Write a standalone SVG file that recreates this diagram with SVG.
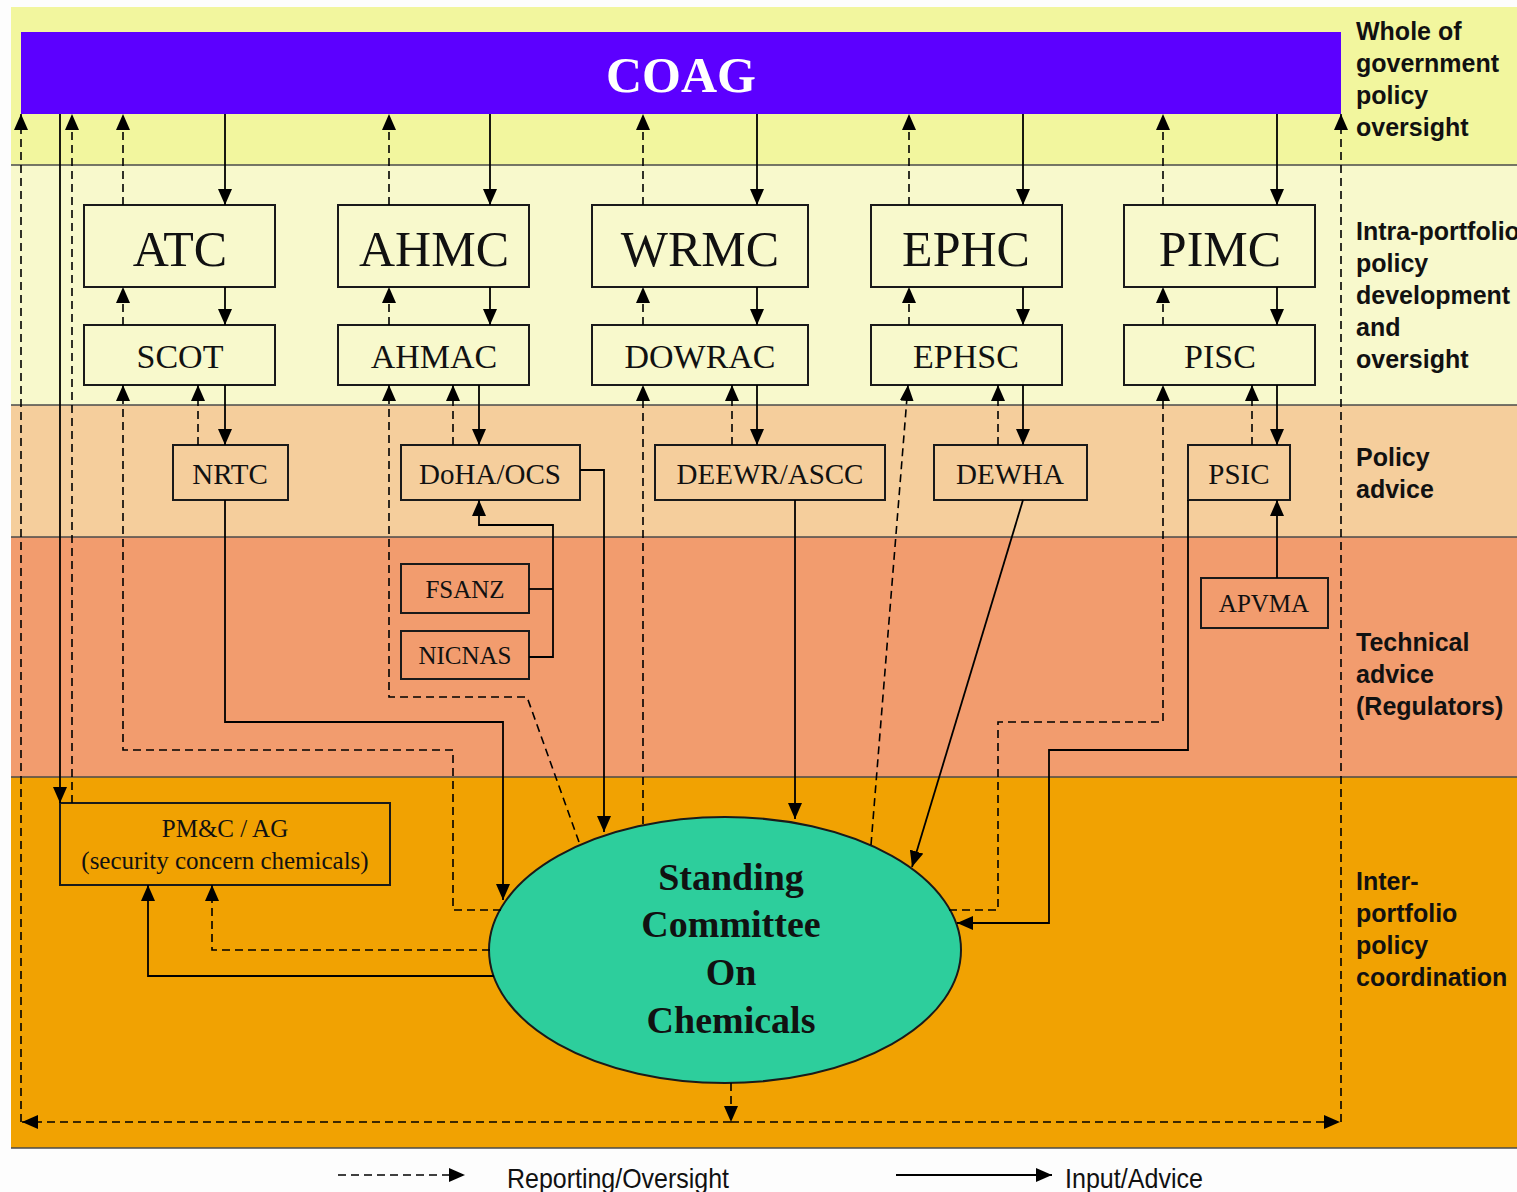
<svg xmlns="http://www.w3.org/2000/svg" width="1517" height="1192" viewBox="0 0 1517 1192">
<defs>
<marker id="arr" viewBox="0 0 16 14" refX="16" refY="7" markerWidth="16" markerHeight="14" markerUnits="userSpaceOnUse" orient="auto">
<path d="M0,0 L16,7 L0,14 z" fill="#000"/>
</marker>
<style>
.band-line{stroke:#4a4a4a;stroke-width:1.5}
.box{fill:none;stroke:#1a1a1a;stroke-width:2}
.solid{fill:none;stroke:#000;stroke-width:1.8;marker-end:url(#arr)}
.solidn{fill:none;stroke:#000;stroke-width:1.8}
.dash{fill:none;stroke:#000;stroke-width:1.6;stroke-dasharray:8 5;marker-end:url(#arr)}
.t1{font-family:"Liberation Serif",serif;font-size:50px;fill:#111;text-anchor:middle}
.t2{font-family:"Liberation Serif",serif;font-size:34px;fill:#111;text-anchor:middle}
.t3{font-family:"Liberation Serif",serif;font-size:29px;fill:#111;text-anchor:middle}
.t4{font-family:"Liberation Serif",serif;font-size:25px;fill:#111;text-anchor:middle}
.lab{font-family:"Liberation Sans",Arial,sans-serif;font-size:25px;font-weight:bold;fill:#111}
.leg{font-family:"Liberation Sans",Arial,sans-serif;font-size:28px;fill:#111}
.scc{font-family:"Liberation Serif",serif;font-size:38px;font-weight:bold;fill:#111;text-anchor:middle}
</style>
</defs>

<g id="bands">
<rect x="0" y="0" width="1517" height="1192" fill="#fdfdfd"/>
<rect x="11" y="7" width="1506" height="158" fill="#f2f69e"/>
<rect x="11" y="165" width="1506" height="240" fill="#f8f9cc"/>
<rect x="11" y="405" width="1506" height="132" fill="#f5ce9c"/>
<rect x="11" y="537" width="1506" height="240" fill="#f29c6e"/>
<rect x="11" y="777" width="1506" height="371" fill="#f1a202"/>
<line class="band-line" x1="11" y1="165" x2="1517" y2="165"/>
<line class="band-line" x1="11" y1="405" x2="1517" y2="405"/>
<line class="band-line" x1="11" y1="537" x2="1517" y2="537"/>
<line class="band-line" x1="11" y1="777" x2="1517" y2="777"/>
<line class="band-line" x1="11" y1="1148" x2="1517" y2="1148"/>
</g>

<g id="band-labels">
<text class="lab" x="1356" y="40">Whole of</text>
<text class="lab" x="1356" y="72">government</text>
<text class="lab" x="1356" y="104">policy</text>
<text class="lab" x="1356" y="136">oversight</text>
<text class="lab" x="1356" y="240">Intra-portfolio</text>
<text class="lab" x="1356" y="272">policy</text>
<text class="lab" x="1356" y="304">development</text>
<text class="lab" x="1356" y="336">and</text>
<text class="lab" x="1356" y="368">oversight</text>
<text class="lab" x="1356" y="466">Policy</text>
<text class="lab" x="1356" y="498">advice</text>
<text class="lab" x="1356" y="651">Technical</text>
<text class="lab" x="1356" y="683">advice</text>
<text class="lab" x="1356" y="715">(Regulators)</text>
<text class="lab" x="1356" y="890">Inter-</text>
<text class="lab" x="1356" y="922">portfolio</text>
<text class="lab" x="1356" y="954">policy</text>
<text class="lab" x="1356" y="986">coordination</text>
</g>

<g id="COAG">
<rect x="21" y="32" width="1320" height="82" fill="#5c00ff"/>
<text x="681" y="92" font-family="Liberation Serif,serif" font-size="50" font-weight="bold" fill="#fff" text-anchor="middle">COAG</text>
</g>

<g id="ATC"><rect class="box" x="84" y="205" width="191" height="82"/><text class="t1" x="180" y="266">ATC</text></g>
<g id="AHMC"><rect class="box" x="338" y="205" width="191" height="82"/><text class="t1" x="434" y="266">AHMC</text></g>
<g id="WRMC"><rect class="box" x="592" y="205" width="216" height="82"/><text class="t1" x="700" y="266">WRMC</text></g>
<g id="EPHC"><rect class="box" x="871" y="205" width="191" height="82"/><text class="t1" x="966" y="266">EPHC</text></g>
<g id="PIMC"><rect class="box" x="1124" y="205" width="191" height="82"/><text class="t1" x="1220" y="266">PIMC</text></g>

<g id="SCOT"><rect class="box" x="84" y="325" width="191" height="60"/><text class="t2" x="180" y="368">SCOT</text></g>
<g id="AHMAC"><rect class="box" x="338" y="325" width="191" height="60"/><text class="t2" x="434" y="368">AHMAC</text></g>
<g id="DOWRAC"><rect class="box" x="592" y="325" width="216" height="60"/><text class="t2" x="700" y="368">DOWRAC</text></g>
<g id="EPHSC"><rect class="box" x="871" y="325" width="191" height="60"/><text class="t2" x="966" y="368">EPHSC</text></g>
<g id="PISC"><rect class="box" x="1124" y="325" width="191" height="60"/><text class="t2" x="1220" y="368">PISC</text></g>

<g id="NRTC"><rect class="box" x="173" y="445" width="115" height="55"/><text class="t3" x="230" y="484">NRTC</text></g>
<g id="DoHA-OCS"><rect class="box" x="401" y="445" width="179" height="55"/><text class="t3" x="490" y="484">DoHA/OCS</text></g>
<g id="DEEWR-ASCC"><rect class="box" x="655" y="445" width="230" height="55"/><text class="t3" x="770" y="484">DEEWR/ASCC</text></g>
<g id="DEWHA"><rect class="box" x="934" y="445" width="153" height="55"/><text class="t3" x="1010" y="484">DEWHA</text></g>
<g id="PSIC"><rect class="box" x="1188" y="445" width="102" height="55"/><text class="t3" x="1239" y="484">PSIC</text></g>

<g id="FSANZ"><rect class="box" x="401" y="564" width="128" height="49"/><text class="t4" x="465" y="598">FSANZ</text></g>
<g id="NICNAS"><rect class="box" x="401" y="631" width="128" height="48"/><text class="t4" x="465" y="664">NICNAS</text></g>
<g id="APVMA"><rect class="box" x="1201" y="578" width="127" height="50"/><text class="t4" x="1264" y="612">APVMA</text></g>

<g id="PMC-AG"><rect class="box" x="60" y="803" width="330" height="82"/>
<text class="t4" x="225" y="837" font-size="25.5">PM&amp;C / AG</text>
<text class="t4" x="225" y="869" font-size="25.5">(security concern chemicals)</text></g>

<g id="SCC">
<ellipse cx="725" cy="950" rx="236" ry="133" fill="#2dce9c" stroke="#1a1a1a" stroke-width="2"/>
<text class="scc" x="731" y="890">Standing</text>
<text class="scc" x="731" y="937">Committee</text>
<text class="scc" x="731" y="985">On</text>
<text class="scc" x="731" y="1033">Chemicals</text>
</g>

<g id="connectors">
<path class="solid" d="M60,114 V803"/>
<path class="solid" d="M225,114 V205"/>
<path class="solid" d="M225,287 V325"/>
<path class="solid" d="M225,385 V445"/>
<path class="solid" d="M490,114 V205"/>
<path class="solid" d="M490,287 V325"/>
<path class="solid" d="M479,385 V445"/>
<path class="solid" d="M757,114 V205"/>
<path class="solid" d="M757,287 V325"/>
<path class="solid" d="M757,385 V445"/>
<path class="solid" d="M1023,114 V205"/>
<path class="solid" d="M1023,287 V325"/>
<path class="solid" d="M1023,385 V445"/>
<path class="solid" d="M1277,114 V205"/>
<path class="solid" d="M1277,287 V325"/>
<path class="solid" d="M1277,385 V445"/>
<path class="solid" d="M225,500 V722 H503 V900"/>
<path class="solid" d="M580,470 H604 V832"/>
<path class="solidn" d="M529,589 H553"/>
<path class="solid" d="M529,657 H553 V525 H479 V500"/>
<path class="solid" d="M795,500 V819"/>
<path class="solid" d="M1023,500 L912,867"/>
<path class="solid" d="M1188,500 V750 H1049 V923 H957"/>
<path class="solid" d="M1277,578 V500"/>
<path class="solid" d="M494,976 H148 V885"/>
<path class="dash" d="M21,1122 V114"/>
<path class="dash" d="M72,803 V114"/>
<path class="dash" d="M123,205 V114"/>
<path class="dash" d="M123,325 V287"/>
<path class="dash" d="M501,910 H453 V750 H123 V385"/>
<path class="dash" d="M198,445 V385"/>
<path class="dash" d="M389,205 V114"/>
<path class="dash" d="M389,325 V287"/>
<path class="dash" d="M579,842 L527,697 H389 V385"/>
<path class="dash" d="M453,445 V385"/>
<path class="dash" d="M643,205 V114"/>
<path class="dash" d="M643,325 V287"/>
<path class="dash" d="M643,824 V385"/>
<path class="dash" d="M732,445 V385"/>
<path class="dash" d="M909,205 V114"/>
<path class="dash" d="M909,325 V287"/>
<path class="dash" d="M871,845 L908,385"/>
<path class="dash" d="M998,445 V385"/>
<path class="dash" d="M1163,205 V114"/>
<path class="dash" d="M1163,325 V287"/>
<path class="dash" d="M949,910 H998 V722 H1163 V385"/>
<path class="dash" d="M1252,445 V385"/>
<path class="dash" d="M490,950 H212 V885"/>
<path class="dash" d="M731,1083 V1122"/>
<path class="dash" d="M731,1122 H22"/>
<path class="dash" d="M731,1122 H1340"/>
<path class="dash" d="M1341,1122 V114"/>
</g>

<g id="legend">
<path class="dash" d="M338,1175 H465"/>
<text class="leg" x="507" y="1188" textLength="222" lengthAdjust="spacingAndGlyphs">Reporting/Oversight</text>
<path class="solid" d="M896,1175 H1052"/>
<text class="leg" x="1065" y="1188" textLength="138" lengthAdjust="spacingAndGlyphs">Input/Advice</text>
</g>
</svg>
